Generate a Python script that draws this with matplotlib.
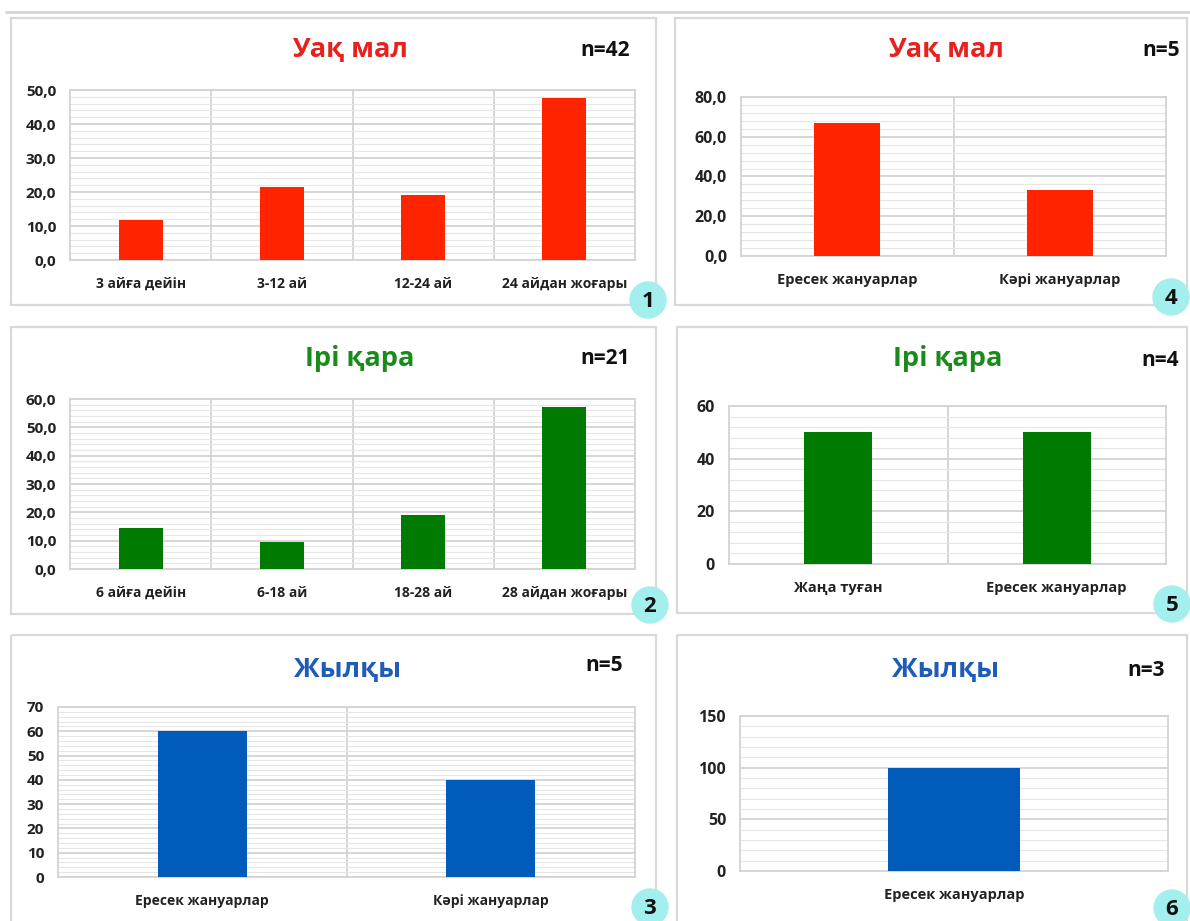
import matplotlib
matplotlib.use('Agg')
import matplotlib.pyplot as plt
import numpy as np
from matplotlib.patches import Rectangle, Circle
from matplotlib.ticker import MultipleLocator, FixedLocator, FuncFormatter

W, H = 1190, 921
FONT = ['Open Sans', 'DejaVu Sans']
plt.rcParams['font.family'] = FONT

# ---------------- data ----------------
cats_1 = ['3 айға дейін', '3-12 ай', '12-24 ай', '24 айдан жоғары']
vals_1 = [11.9, 21.4, 19.0, 47.6]
cats_2 = ['6 айға дейін', '6-18 ай', '18-28 ай', '28 айдан жоғары']
vals_2 = [14.3, 9.5, 19.0, 57.1]
cats_3 = ['Ересек жануарлар', 'Кәрі жануарлар']
vals_3 = [60, 40]
cats_4 = ['Ересек жануарлар', 'Кәрі жануарлар']
vals_4 = [66.7, 33.3]
cats_5 = ['Жаңа туған', 'Ересек жануарлар']
vals_5 = [50, 50]
cats_6 = ['Ересек жануарлар']
vals_6 = [100]

titles = ['Уақ мал', 'Ірі қара', 'Жылқы', 'Уақ мал', 'Ірі қара', 'Жылқы']
n_labels = ['n=42', 'n=21', 'n=5', 'n=5', 'n=4', 'n=3']
badges = ['1', '2', '3', '4', '5', '6']

RED_T, RED_B = '#e8201e', '#ff2400'
GRN_T, GRN_B = '#1a8a1a', '#007a00'
BLU_T, BLU_B = '#1f5cb8', '#005bbb'

fig = plt.figure(figsize=(W / 100, H / 100), dpi=100)
fig.patch.set_facecolor('white')

ov = fig.add_axes([0, 0, 1, 1], zorder=5)
ov.set_xlim(0, W)
ov.set_ylim(H, 0)
ov.axis('off')
ov.patch.set_alpha(0)

# top line
ov.plot([5, W], [12, 12], color='#d4d4d4', lw=2, solid_capstyle='butt')

panels = [
    dict(cats=cats_1, vals=vals_1, box=(11, 18, 656, 305), plot=(70, 90, 635, 260),
         ymax=50, maj=10, mnr=2, dec=True, col=(RED_T, RED_B), tpos=(350, 50), npos=(605, 50),
         bpos=(648, 300), tfs=11, xfs=10),
    dict(cats=cats_2, vals=vals_2, box=(11, 327, 656, 614), plot=(70, 399, 635, 569),
         ymax=60, maj=10, mnr=2, dec=True, col=(GRN_T, GRN_B), tpos=(360, 358), npos=(605, 358),
         bpos=(650, 605), tfs=11, xfs=10),
    dict(cats=cats_3, vals=vals_3, box=(11, 635, 656, 925), plot=(58, 707, 635, 877),
         ymax=70, maj=10, mnr=2, dec=False, col=(BLU_T, BLU_B), tpos=(348, 670), npos=(604, 665),
         bpos=(650, 907), tfs=11, xfs=10),
    dict(cats=cats_4, vals=vals_4, box=(675, 18, 1187, 305), plot=(741, 97, 1166, 256),
         ymax=80, maj=20, mnr=4, dec=True, col=(RED_T, RED_B), tpos=(946, 50), npos=(1161, 50),
         bpos=(1171, 297), tfs=11.5, xfs=10.5),
    dict(cats=cats_5, vals=vals_5, box=(677, 327, 1187, 613), plot=(729, 406, 1166, 564),
         ymax=60, maj=20, mnr=4, dec=False, col=(GRN_T, GRN_B), tpos=(948, 358), npos=(1160, 360),
         bpos=(1172, 604), tfs=11.5, xfs=10.5),
    dict(cats=cats_6, vals=vals_6, box=(677, 635, 1187, 925), plot=(740, 716, 1168, 871),
         ymax=150, maj=50, mnr=10, dec=False, col=(BLU_T, BLU_B), tpos=(946, 670), npos=(1146, 670),
         bpos=(1172, 908), tfs=11.5, xfs=10.5),
]

def fmt_dec(v, p):
    return f'{v:.1f}'.replace('.', ',')

def fmt_int(v, p):
    return f'{v:.0f}'

for i, p in enumerate(panels):
    l, t, r, b = p['box']
    ov.add_patch(Rectangle((l, t), r - l, b - t, fill=False, edgecolor='#d9d9d9', lw=1.6))
    ov.text(p['tpos'][0], p['tpos'][1], titles[i], color=p['col'][0], fontsize=19.5,
            fontweight='bold', ha='center', va='center', family=FONT)
    ov.text(p['npos'][0], p['npos'][1], n_labels[i], color='#111111', fontsize=15,
            fontweight='bold', ha='center', va='center', family=FONT)
    ov.add_patch(Circle(p['bpos'], 18, color='#a3efee', zorder=6))
    ov.text(p['bpos'][0], p['bpos'][1] + 1, badges[i], fontsize=16, fontweight='bold',
            ha='center', va='center', color='#111111', zorder=7, family=FONT)

    pl, pt, pr, pb = p['plot']
    ax = fig.add_axes([pl / W, 1 - pb / H, (pr - pl) / W, (pb - pt) / H], zorder=2)
    n = len(p['cats'])
    x = np.arange(n)
    ax.bar(x, p['vals'], width=0.31, color=p['col'][1], zorder=3)
    ax.set_xlim(-0.5, n - 0.5)
    ax.set_ylim(0, p['ymax'])
    ax.set_xticks(x)
    ax.set_xticklabels(p['cats'])
    ax.xaxis.set_minor_locator(FixedLocator(np.arange(n - 1) + 0.5))
    ax.yaxis.set_major_locator(MultipleLocator(p['maj']))
    ax.yaxis.set_minor_locator(MultipleLocator(p['mnr']))
    ax.yaxis.set_major_formatter(FuncFormatter(fmt_dec if p['dec'] else fmt_int))
    ax.set_axisbelow(True)
    ax.yaxis.grid(True, which='minor', color='#e6e6e6', lw=0.8)
    ax.yaxis.grid(True, which='major', color='#d3d3d3', lw=1.3)
    ax.xaxis.grid(True, which='minor', color='#d3d3d3', lw=1.3)
    ax.xaxis.grid(False, which='major')
    ax.tick_params(which='both', length=0)
    ax.tick_params(axis='y', pad=10, labelsize=p['tfs'], labelcolor='#222222')
    ax.tick_params(axis='x', pad=12, labelsize=p['xfs'], labelcolor='#222222')
    for lab in ax.get_xticklabels() + ax.get_yticklabels():
        lab.set_fontweight('bold')
    for s in ax.spines.values():
        s.set_color('#d3d3d3')
        s.set_linewidth(1.3)

fig.savefig('out.png', dpi=100, facecolor='white')
